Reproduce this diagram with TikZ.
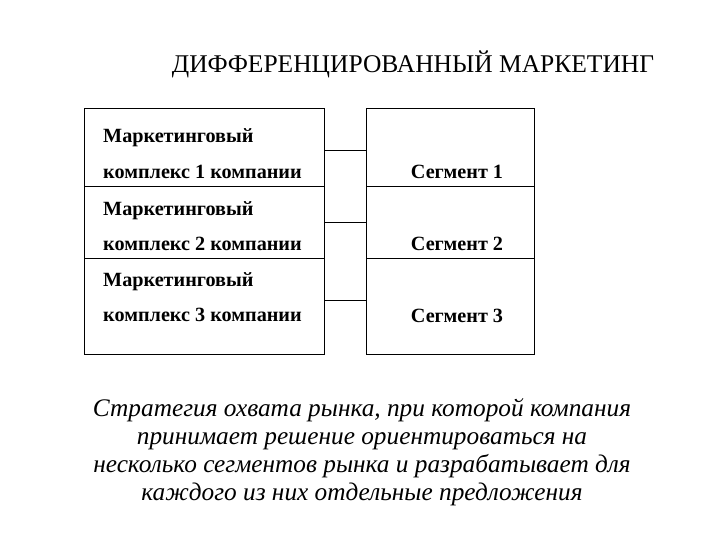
\documentclass[tikz,border=0pt]{standalone}
\usepackage{fontspec}
\setmainfont{Liberation Serif}
\begin{document}
\begin{tikzpicture}[x=1pt,y=-1pt,
  cell/.style={draw,line width=0.8pt,inner sep=0pt},
  lt/.style={font=\bfseries\fontsize{20.2}{21}\selectfont,anchor=base west,inner sep=0pt},
  rt/.style={font=\bfseries\fontsize{20.2}{21}\selectfont,anchor=base,inner sep=0pt},
  conn/.style={line width=0.8pt}]
\useasboundingbox (0,0) rectangle (720,540);
\node[font=\fontsize{25.5}{26}\selectfont,anchor=base,inner sep=0pt] (title) at (413,73) {ДИФФЕРЕНЦИРОВАННЫЙ МАРКЕТИНГ};
\node[cell,minimum width=240pt,minimum height=78pt] (L1) at (204,147) {};
\node[cell,minimum width=240pt,minimum height=72pt] (L2) at (204,222) {};
\node[cell,minimum width=240pt,minimum height=96pt] (L3) at (204,306) {};
\node[cell,minimum width=168pt,minimum height=78pt] (R1) at (450,147) {};
\node[cell,minimum width=168pt,minimum height=72pt] (R2) at (450,222) {};
\node[cell,minimum width=168pt,minimum height=96pt] (R3) at (450,306) {};
\draw[conn] ([yshift=-3pt]L1.east) -- ([yshift=-3pt]R1.west);
\draw[conn] (L2.east) -- (R2.west);
\draw[conn] ([yshift=6pt]L3.east) -- ([yshift=6pt]R3.west);
\node[lt] (a1) at (103,143) {Маркетинговый};
\node[lt] (b1) at (103,179) {комплекс 1 компании};
\node[lt] (a2) at (103,215) {Маркетинговый};
\node[lt] (b2) at (103,250) {комплекс 2 компании};
\node[lt] (a3) at (103,286) {Маркетинговый};
\node[lt] (b3) at (103,321) {комплекс 3 компании};
\node[rt] (s1) at (457,179) {Сегмент 1};
\node[rt] (s2) at (457,250) {Сегмент 2};
\node[rt] (s3) at (457,322) {Сегмент 3};
\node[font=\itshape\fontsize{25.3}{28}\selectfont,align=center,anchor=north,inner sep=0pt] (desc) at (362,398)
{Стратегия охвата рынка, при которой компания\\принимает решение ориентироваться на\\несколько сегментов рынка и разрабатывает для\\каждого из них отдельные предложения};
\end{tikzpicture}
\end{document}
